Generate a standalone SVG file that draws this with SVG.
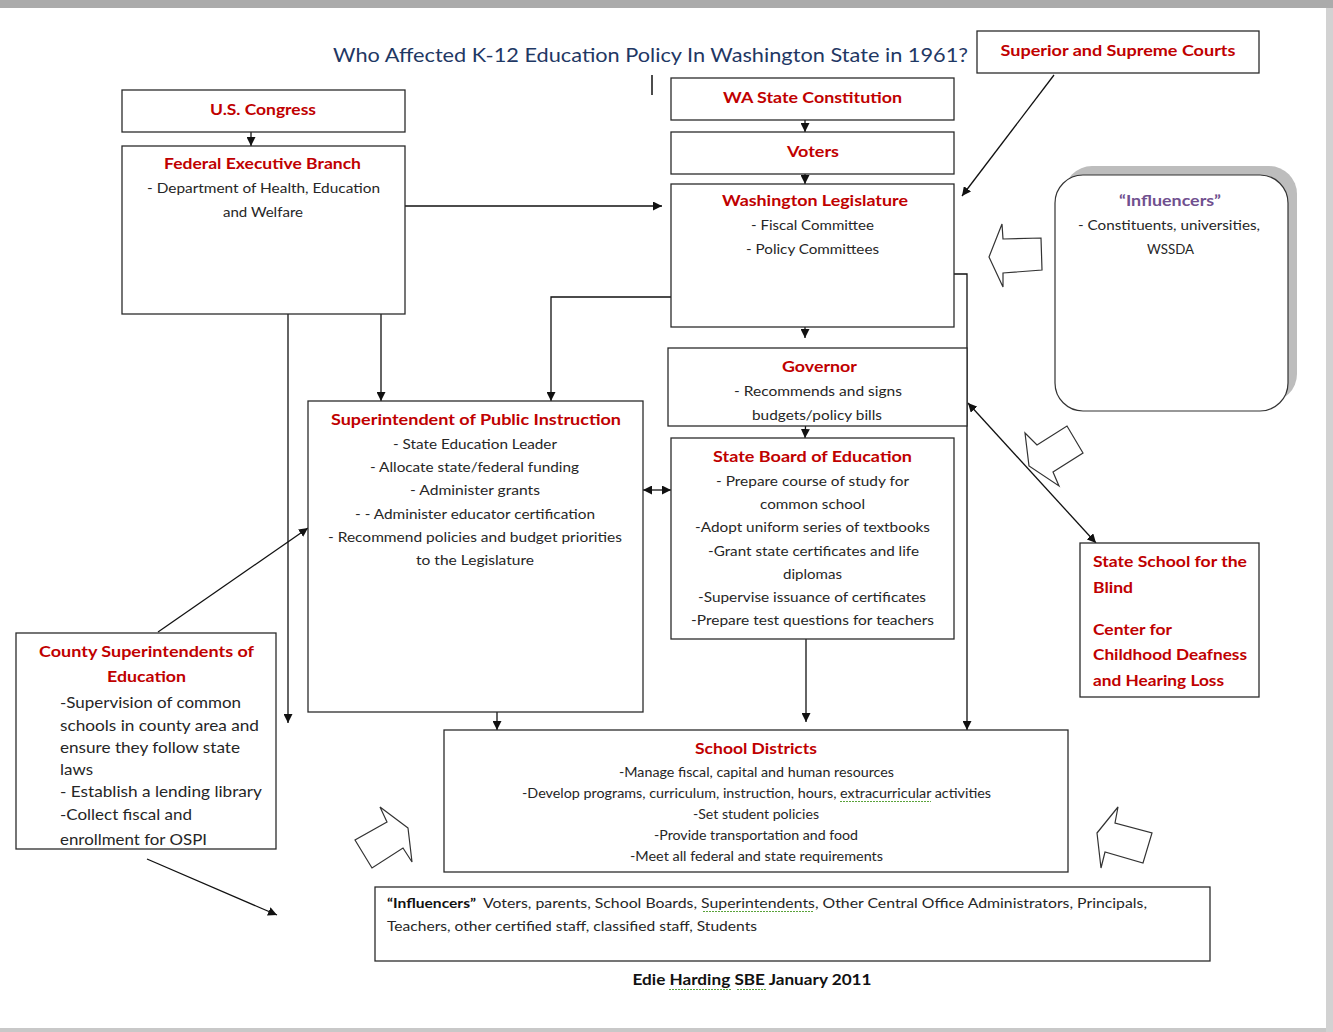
<svg xmlns="http://www.w3.org/2000/svg" width="1333" height="1032" viewBox="0 0 1333 1032">
<style>
.box{fill:#fff;stroke:#2b2b2b;stroke-width:1.3}
.h{font-family:Lato,"Open Sans","Liberation Sans",sans-serif;font-weight:bold;font-size:16px;fill:#C00000;text-anchor:middle}
.hl{font-family:Lato,"Open Sans","Liberation Sans",sans-serif;font-weight:bold;font-size:16px;fill:#C00000}
.b{font-family:Lato,"Open Sans","Liberation Sans",sans-serif;font-size:14px;fill:#262626;text-anchor:middle}
.bl{font-family:Lato,"Open Sans","Liberation Sans",sans-serif;font-size:15px;fill:#262626}
.s{font-family:Lato,"Open Sans","Liberation Sans",sans-serif;font-size:12.5px;fill:#262626;text-anchor:middle}
.c{fill:none;stroke:#111;stroke-width:1.3}
.blk{fill:#fff;stroke:#333;stroke-width:1.2;stroke-linejoin:miter}
.sq{fill:none;stroke:#5BA33B;stroke-width:1;stroke-dasharray:2 1}
</style>
<defs>
<marker id="ah" viewBox="0 0 10 10" refX="10" refY="5" markerWidth="9" markerHeight="9" markerUnits="userSpaceOnUse" orient="auto-start-reverse">
<path d="M0,0 L10,5 L0,10 z" fill="#111"/>
</marker>
<clipPath id="clipGov"><rect x="668" y="348" width="299" height="77"/></clipPath>
<clipPath id="clipCounty"><rect x="16" y="633" width="260" height="212"/></clipPath>
</defs>

<!-- page frame -->
<rect x="0" y="0" width="1333" height="1032" fill="#fff"/>
<rect x="0" y="0" width="1333" height="8" fill="#ABABAB"/>
<rect x="1326" y="8" width="7" height="1024" fill="#D2D2D2"/>
<rect x="0" y="1028" width="1326" height="4" fill="#C8C8C8"/>

<!-- title -->
<text x="650.5" y="62" font-family="Lato,'Open Sans','Liberation Sans',sans-serif" font-size="20" fill="#1F3864" text-anchor="middle" textLength="635" lengthAdjust="spacingAndGlyphs">Who Affected K-12 Education Policy In Washington State in 1961?</text>
<line x1="652" y1="75" x2="652" y2="95" stroke="#111" stroke-width="1.5"/>

<g id="connectors">
<path class="c" d="M251,132 V146" marker-end="url(#ah)"/>
<path class="c" d="M805,120 V132" marker-end="url(#ah)"/>
<path class="c" d="M805,174 V184" marker-end="url(#ah)"/>
<path class="c" d="M1054,75 L962,196" marker-end="url(#ah)"/>
<path class="c" d="M405,206 H662" marker-end="url(#ah)"/>
<path class="c" d="M805,327 V338" marker-end="url(#ah)"/>
<path class="c" d="M806,415 L805,438" marker-end="url(#ah)"/>
<path class="c" d="M671,297 H551 V401" marker-end="url(#ah)"/>
<path class="c" d="M381,314 V401" marker-end="url(#ah)"/>
<path class="c" d="M288,314 V723" marker-end="url(#ah)"/>
<path class="c" d="M954,274 H967 V730" marker-end="url(#ah)"/>
<path class="c" d="M806,639 V722" marker-end="url(#ah)"/>
<path class="c" d="M497,712 V730" marker-end="url(#ah)"/>
<path class="c" d="M643,490 H671" marker-start="url(#ah)" marker-end="url(#ah)"/>
<path class="c" d="M968,403 L1096,543" marker-start="url(#ah)" marker-end="url(#ah)"/>
<path class="c" d="M158,632 L308,528" marker-end="url(#ah)"/>
<path class="c" d="M147,859 L277,915" marker-end="url(#ah)"/>
</g>

<g id="block-arrows">
<polygon class="blk" points="989,257 1002,224 1003,239 1041,238 1042,270 1003,273 1003,287"/>
<polygon class="blk" points="1029,466 1025,433 1037,445 1067,426 1083,453 1053,472 1059,486"/>
<polygon class="blk" points="408,828 380,807 387,822 355,840 372,868 403,848 412,862"/>
<polygon class="blk" points="1097,833 1118,807 1115,823 1152,833 1143,863 1105,852 1101,868"/>
</g>

<g id="courts">
<rect class="box" x="977" y="31" width="282" height="42"/>
<text class="h" x="1118" y="56" textLength="235" lengthAdjust="spacingAndGlyphs">Superior and Supreme Courts</text>
</g>

<g id="congress">
<rect class="box" x="122" y="90" width="283" height="42"/>
<text class="h" x="263" y="115" textLength="106" lengthAdjust="spacingAndGlyphs">U.S. Congress</text>
</g>

<g id="constitution">
<rect class="box" x="671" y="78" width="283" height="42"/>
<text class="h" x="812.5" y="103" textLength="179" lengthAdjust="spacingAndGlyphs">WA State Constitution</text>
</g>

<g id="voters">
<rect class="box" x="671" y="132" width="283" height="42"/>
<text class="h" x="813" y="157" textLength="52" lengthAdjust="spacingAndGlyphs">Voters</text>
</g>

<g id="legislature">
<rect class="box" x="671" y="184" width="283" height="143"/>
<text class="h" x="815" y="206" textLength="186" lengthAdjust="spacingAndGlyphs">Washington Legislature</text>
<text class="b" x="812.5" y="230" textLength="123" lengthAdjust="spacingAndGlyphs">- Fiscal Committee</text>
<text class="b" x="812.5" y="254" textLength="133" lengthAdjust="spacingAndGlyphs">- Policy Committees</text>
</g>

<g id="federal-exec">
<rect class="box" x="122" y="146" width="283" height="168"/>
<text class="h" x="262.5" y="169" textLength="197" lengthAdjust="spacingAndGlyphs">Federal Executive Branch</text>
<text class="b" x="263.5" y="193" textLength="233" lengthAdjust="spacingAndGlyphs">- Department of Health, Education</text>
<text class="b" x="263" y="217" textLength="80" lengthAdjust="spacingAndGlyphs">and Welfare</text>
</g>

<g id="governor">
<rect class="box" x="668" y="348" width="299" height="78"/>
<g clip-path="url(#clipGov)">
<text class="h" x="819.5" y="372" textLength="75" lengthAdjust="spacingAndGlyphs">Governor</text>
<text class="b" x="818" y="396" textLength="168" lengthAdjust="spacingAndGlyphs">- Recommends  and signs</text>
<text class="b" x="817" y="420" textLength="130" lengthAdjust="spacingAndGlyphs">budgets/policy  bills</text>
</g>
</g>

<g id="spi">
<rect class="box" x="308" y="401" width="335" height="311"/>
<text class="h" x="476" y="425" textLength="290" lengthAdjust="spacingAndGlyphs">Superintendent of Public Instruction</text>
<text class="b" x="475" y="449" textLength="164" lengthAdjust="spacingAndGlyphs">- State Education  Leader</text>
<text class="b" x="474.5" y="472" textLength="209" lengthAdjust="spacingAndGlyphs">- Allocate state/federal funding</text>
<text class="b" x="475" y="495" textLength="130" lengthAdjust="spacingAndGlyphs">- Administer grants</text>
<text class="b" x="475" y="519" textLength="240" lengthAdjust="spacingAndGlyphs">- - Administer  educator certification</text>
<text class="b" x="475" y="542" textLength="294" lengthAdjust="spacingAndGlyphs">- Recommend  policies  and budget  priorities</text>
<text class="b" x="475" y="565" textLength="118" lengthAdjust="spacingAndGlyphs">to the Legislature</text>
</g>

<g id="state-board">
<rect class="box" x="671" y="438" width="283" height="201"/>
<text class="h" x="812.5" y="462" textLength="199" lengthAdjust="spacingAndGlyphs">State Board of Education</text>
<text class="b" x="812.5" y="486" textLength="193" lengthAdjust="spacingAndGlyphs">- Prepare  course  of study  for</text>
<text class="b" x="812.5" y="509" textLength="105" lengthAdjust="spacingAndGlyphs">common  school</text>
<text class="b" x="812.5" y="532" textLength="235" lengthAdjust="spacingAndGlyphs">-Adopt  uniform  series of textbooks</text>
<text class="b" x="813.5" y="556" textLength="211" lengthAdjust="spacingAndGlyphs">-Grant state certificates and life</text>
<text class="b" x="812.5" y="579" textLength="59" lengthAdjust="spacingAndGlyphs">diplomas</text>
<text class="b" x="812" y="602" textLength="228" lengthAdjust="spacingAndGlyphs">-Supervise  issuance of certificates</text>
<text class="b" x="812.5" y="625" textLength="243" lengthAdjust="spacingAndGlyphs">-Prepare test questions  for  teachers</text>
</g>

<g id="county">
<rect class="box" x="16" y="633" width="260" height="216"/>
<text class="h" x="146.5" y="657" textLength="215" lengthAdjust="spacingAndGlyphs">County Superintendents of</text>
<text class="h" x="146.5" y="682" textLength="79" lengthAdjust="spacingAndGlyphs">Education</text>
<g clip-path="url(#clipCounty)">
<text class="bl" x="60" y="708" textLength="181" lengthAdjust="spacingAndGlyphs">-Supervision of common</text>
<text class="bl" x="60" y="731" textLength="199" lengthAdjust="spacingAndGlyphs">schools in county area and</text>
<text class="bl" x="60" y="753" textLength="180" lengthAdjust="spacingAndGlyphs">ensure they follow state</text>
<text class="bl" x="60" y="775" textLength="33" lengthAdjust="spacingAndGlyphs">laws</text>
<text class="bl" x="60" y="797" textLength="202" lengthAdjust="spacingAndGlyphs">- Establish a lending library</text>
<text class="bl" x="60" y="820" textLength="132" lengthAdjust="spacingAndGlyphs">-Collect fiscal and</text>
<text class="bl" x="60" y="845" textLength="147" lengthAdjust="spacingAndGlyphs">enrollment for OSPI</text>
</g>
</g>

<g id="school-districts">
<rect class="box" x="444" y="730" width="624" height="142"/>
<text class="h" x="756" y="754" textLength="122" lengthAdjust="spacingAndGlyphs">School Districts</text>
<text class="s" x="756.5" y="777" textLength="275" lengthAdjust="spacingAndGlyphs">-Manage fiscal, capital and human resources</text>
<text class="s" x="756.5" y="798" textLength="469" lengthAdjust="spacingAndGlyphs">-Develop programs, curriculum, instruction, hours, extracurricular activities</text>
<text class="s" x="756" y="819" textLength="126" lengthAdjust="spacingAndGlyphs">-Set student policies</text>
<text class="s" x="756" y="840" textLength="204" lengthAdjust="spacingAndGlyphs">-Provide transportation and food</text>
<text class="s" x="756.5" y="861" textLength="253" lengthAdjust="spacingAndGlyphs">-Meet all federal and state requirements</text>
<path class="sq" d="M840,801.5 H931"/>
</g>

<g id="state-school">
<rect class="box" x="1080" y="543" width="179" height="154"/>
<text class="hl" x="1093" y="567" textLength="154" lengthAdjust="spacingAndGlyphs">State School for the</text>
<text class="hl" x="1093" y="593" textLength="40" lengthAdjust="spacingAndGlyphs">Blind</text>
<text class="hl" x="1093" y="635" textLength="79" lengthAdjust="spacingAndGlyphs">Center for</text>
<text class="hl" x="1093" y="660" textLength="154" lengthAdjust="spacingAndGlyphs">Childhood Deafness</text>
<text class="hl" x="1093" y="686" textLength="131" lengthAdjust="spacingAndGlyphs">and Hearing Loss</text>
</g>

<g id="influencers-state">
<rect x="1064" y="166" width="233" height="236" rx="28" fill="#BDBDBD"/>
<rect x="1055" y="175" width="233" height="236" rx="28" fill="#fff" stroke="#333" stroke-width="1.2"/>
<text x="1170" y="206" font-family="Lato,'Open Sans','Liberation Sans',sans-serif" font-weight="bold" font-size="16" fill="#70508F" text-anchor="middle" textLength="102" lengthAdjust="spacingAndGlyphs">“Influencers”</text>
<text class="b" x="1169" y="230" textLength="182" lengthAdjust="spacingAndGlyphs">- Constituents, universities,</text>
<text class="b" x="1170.5" y="254" textLength="47" lengthAdjust="spacingAndGlyphs">WSSDA</text>
</g>

<g id="influencers-local">
<rect class="box" x="375" y="887" width="835" height="74"/>
<text x="387" y="908" font-family="Lato,'Open Sans','Liberation Sans',sans-serif" font-weight="bold" font-size="14" fill="#111" textLength="89" lengthAdjust="spacingAndGlyphs">“Influencers”</text>
<text x="483" y="908" font-family="Lato,'Open Sans','Liberation Sans',sans-serif" font-size="14" fill="#262626" textLength="664" lengthAdjust="spacingAndGlyphs">Voters, parents, School  Boards,  Superintendents,   Other  Central Office Administrators,  Principals,</text>
<text x="387" y="931" font-family="Lato,'Open Sans','Liberation Sans',sans-serif" font-size="14" fill="#262626" textLength="370" lengthAdjust="spacingAndGlyphs">Teachers, other certified staff, classified staff, Students</text>
<path class="sq" d="M703,911.5 H813"/>
</g>

<g id="footer">
<text x="752" y="985" font-family="Lato,'Open Sans','Liberation Sans',sans-serif" font-weight="bold" font-size="15" fill="#111" text-anchor="middle" textLength="239" lengthAdjust="spacingAndGlyphs">Edie Harding  SBE January 2011</text>
<path class="sq" d="M669,989.5 H731 M737,989.5 H766"/>
</g>
</svg>
